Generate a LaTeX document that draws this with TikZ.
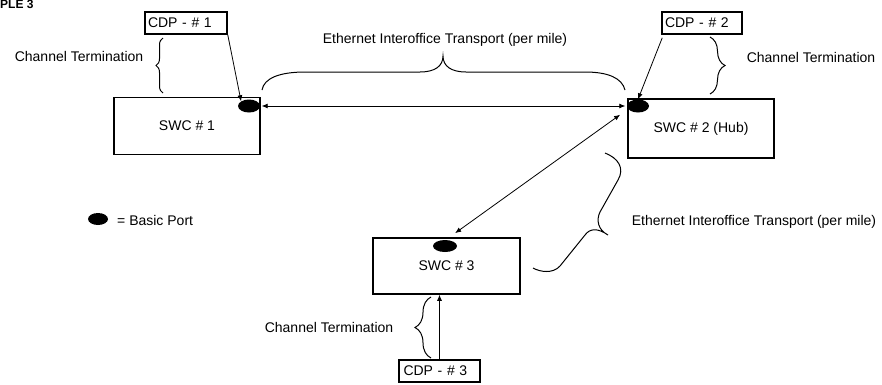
\documentclass[tikz,border=0pt]{standalone}
\usepackage{fontspec}
\setmainfont{Liberation Sans}
\usetikzlibrary{arrows.meta,decorations.pathreplacing,shapes.geometric}
\begin{document}
\begin{tikzpicture}[x=1pt,y=-1pt,
  font=\fontsize{14}{16}\selectfont,
  swcbox/.style={draw, line width=1.5pt, inner sep=0pt},
  cdpbox/.style={draw, line width=1.5pt, inner xsep=3pt, inner ysep=0pt,
    minimum height=22pt, align=left},
  port/.style={ellipse, fill=black, inner sep=0pt, minimum width=22pt, minimum height=13pt},
  conn/.style={line width=0.8pt, -{Latex[length=6pt,width=5pt]}},
  dconn/.style={line width=0.8pt, {Latex[length=6pt,width=5pt]}-{Latex[length=6pt,width=5pt]}},
  brc/.style={line width=1pt, decorate, decoration={brace, amplitude=#1}},
  brline/.style={line width=1pt},
  lbl/.style={inner sep=0pt, anchor=base}
]
\useasboundingbox (0,0) rectangle (882,384);

% title fragment
\node[inner sep=0pt, anchor=base west, font=\bfseries\fontsize{12}{12}\selectfont] (title) at (0,8) {PLE 3};

% boxes
\node[cdpbox, text width=76pt] (cdp1) at (186,23) {CDP - \# 1};
\node[cdpbox, text width=74pt] (cdp2) at (702,23) {CDP - \# 2};
\node[cdpbox, text width=72pt, inner xsep=4.5pt] (cdp3) at (439.5,371) {CDP - \# 3};

\node[swcbox, minimum width=146pt, minimum height=57pt] (swc1) at (187,126) {SWC \# 1};
\node[swcbox, minimum width=146pt, minimum height=59pt] (swc2) at (701,128.5) {SWC \# 2 (Hub)};
\node[swcbox, minimum width=147pt, minimum height=56pt] (swc3) at (446.5,266) {SWC \# 3};

% ports
\node[port] (p1) at (249,106) {};
\node[port] (p2) at (638,106) {};
\node[port, minimum width=24pt, minimum height=12pt] (p3) at (445,246) {};
\node[port, minimum width=20pt, minimum height=12pt] (leg) at (98,219) {};

% connectors
\draw[conn] (cdp1.south east) -- (p1.north west);
\draw[conn] ([xshift=1pt,yshift=-3pt]cdp2.south west) -- (p2.north);
\draw[dconn, shorten <=1.5pt, shorten >=1.5pt] (p1.east) -- (p2.west);
\draw[dconn] ([xshift=1.5pt,yshift=8.5pt]p3.north east) -- ([xshift=-10pt,yshift=-4pt]p2.south west);
\draw[conn] (cdp3.north) -- (cdp3.north |- swc3.south);

% braces
\draw[brc=7pt] (163,93) -- (163,38);
\draw[brc=15pt] (710,37) -- (710,94);
\draw[brc=16pt] (431,358) -- (431,297);
\draw[brline] (262,90) .. controls (264,78) and (280,72) .. (305,72) -- (420,72)
  .. controls (435,72) and (443,66) .. (443,56)
  .. controls (443,66) and (451,72) .. (466,72) -- (585,72)
  .. controls (608,72) and (622,78) .. (625,90);
\draw[brline] (605,153) .. controls (618,158) and (625,168) .. (618,180) -- (600,212)
  .. controls (596,220) and (598,230) .. (608,235)
  .. controls (598,228) and (590,228) .. (585,235) -- (560,266)
  .. controls (553,274) and (540,272) .. (533,268);

% labels
\node[lbl] (ct1) at (79,61) {Channel Termination};
\node[lbl] (ct2) at (811,62) {Channel Termination};
\node[lbl] (ct3) at (329,332) {Channel Termination};
\node[lbl] (eit1) at (445,43) {Ethernet Interoffice Transport (per mile)};
\node[lbl] (eit2) at (754,225) {Ethernet Interoffice Transport (per mile)};
\node[inner sep=0pt, anchor=base west] (legt) at (117,225) {= Basic Port};
\end{tikzpicture}
\end{document}
